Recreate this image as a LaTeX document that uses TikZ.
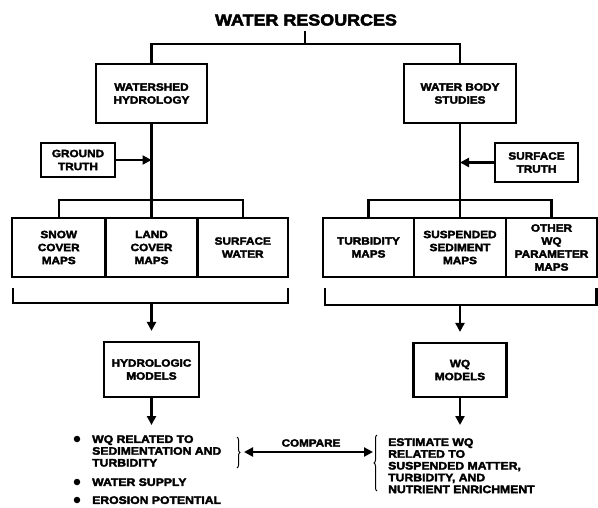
\documentclass[tikz,border=0pt]{standalone}
\usepackage{fontspec}
\newfontfamily\hv{Liberation Sans}[FakeStretch=1.12, BoldFeatures={FakeBold=3}]
\usetikzlibrary{arrows.meta,decorations.pathreplacing}
\begin{document}
\begin{tikzpicture}[x=1pt,y=-1pt,
  box/.style={draw, line width=2.2pt, inner sep=0pt, align=center, font=\hv\bfseries\fontsize{10.5}{13}\selectfont},
  conn/.style={line width=2.4pt},
  arr/.style={line width=2.4pt, -{Triangle[length=9pt,width=9pt]}},
  arrtwo/.style={line width=2.4pt, {Triangle[length=9pt,width=9pt]}-{Triangle[length=9pt,width=9pt]}},
  txt/.style={align=left, inner sep=0pt, anchor=north west, font=\hv\bfseries\fontsize{10.9}{11.8}\selectfont},
  dot/.style={circle, fill, inner sep=0pt, minimum size=6.5pt},
  brc/.style={decorate, decoration={brace, amplitude=3pt}, line width=1pt}
]
\useasboundingbox (0,0) rectangle (598,507);

% title
\node[inner sep=0pt, font=\hv\bfseries\fontsize{16}{19}\selectfont] (title) at (306,20) {WATER RESOURCES};
\coordinate (top) at (305,44);
\coordinate (stub) at (305,31);
\draw[conn] (stub) -- (top);

% second level
\node[box, minimum width=111pt, minimum height=59pt] (ws) at (151.5,93.5) {WATERSHED\\HYDROLOGY};
\node[box, minimum width=112pt, minimum height=59pt] (wb) at (460,93.5) {WATER BODY\\STUDIES};
\draw[conn] (ws.north) |- (top) -| (wb.north);

% truth boxes
\node[box, minimum width=74pt, minimum height=34pt] (gt) at (78,160) {GROUND\\TRUTH};
\node[box, minimum width=83pt, minimum height=39pt] (st) at (536.5,162.5) {SURFACE\\TRUTH};

% left map row
\node[box, minimum width=93.5pt, minimum height=59pt] (s1) at (58.75,247.5) {SNOW\\COVER\\MAPS};
\node[box, minimum width=92pt, minimum height=59pt] (s2) at (151.5,247.5) {LAND\\COVER\\MAPS};
\node[box, minimum width=90.5pt, minimum height=59pt] (s3) at (242.75,247.5) {SURFACE\\WATER};

% right map row
\node[box, minimum width=91pt, minimum height=59pt] (r1) at (368.5,247.5) {TURBIDITY\\MAPS};
\node[box, minimum width=92pt, minimum height=59pt] (r2) at (460,247.5) {SUSPENDED\\SEDIMENT\\MAPS};
\node[box, minimum width=91pt, minimum height=59pt] (r3) at (551.5,247.5) {OTHER\\WQ\\PARAMETER\\MAPS};

% connectors down to map rows
\coordinate (lj) at (151.5,200);
\coordinate (rj) at (460,200);
\draw[conn] (ws.south) -- (s2.north);
\draw[conn] (s1.north) |- (lj) -| (s3.north);
\draw[conn] (wb.south) -- (r2.north);
\draw[conn] (r1.north) |- (rj) -| (r3.north);
\draw[arr] (gt.east) -- (gt.east -| ws.south);
\draw[arr] (st.west) -- (st.west -| wb.south);

% lower brackets
\coordinate (lb1) at (13,288);
\coordinate (lbl) at (13,303);
\coordinate (lbr) at (288,303);
\coordinate (lb2) at (288,288);
\draw[conn] (lb1) -- (lbl) -- (lbr) -- (lb2);
\coordinate (rb1) at (325,288);
\coordinate (rbl) at (325,305);
\coordinate (rbr) at (596.5,305);
\coordinate (rb2) at (596.5,288);
\draw[conn] (rb1) -- (rbl) -- (rbr) -- (rb2);

% models
\node[box, minimum width=95pt, minimum height=55pt] (hm) at (151.5,369.5) {HYDROLOGIC\\MODELS};
\node[box, minimum width=93pt, minimum height=54pt] (wq) at (460,370) {WQ\\MODELS};
\coordinate (la) at (151.5,303);
\coordinate (ra) at (460,305);
\draw[arr] (la) -- ([yshift=10pt]hm.north);
\draw[arr] (ra) -- ([yshift=10pt]wq.north);
\coordinate (lo) at (151.5,425);
\coordinate (ro) at (460,425);
\draw[arr] (hm.south) -- (lo);
\draw[arr] (wq.south) -- (ro);

% left outcome list
\node[dot] (d1) at (77,439) {};
\node[dot] (d2) at (77,482) {};
\node[dot] (d3) at (77,500) {};
\node[txt] (i1) at (92,435.1) {WQ RELATED TO\\SEDIMENTATION AND\\TURBIDITY};
\node[txt] (i2) at (92,478.1) {WATER SUPPLY};
\node[txt] (i3) at (92,496.1) {EROSION POTENTIAL};

% right outcome text
\node[txt] (rt) at (388,438.1) {ESTIMATE WQ\\RELATED TO\\SUSPENDED MATTER,\\TURBIDITY, AND\\NUTRIENT ENRICHMENT};

% braces
\draw[brc] (237,437) -- (237,468);
\draw[brc] (377,491) -- (377,435);

% compare
\coordinate (ca) at (244,452);
\coordinate (cb) at (373,452);
\draw[arrtwo] (ca) -- (cb);
\node[inner sep=0pt, font=\hv\bfseries\fontsize{10.4}{12}\selectfont] (cmp) at (311,443) {COMPARE};
\end{tikzpicture}
\end{document}
